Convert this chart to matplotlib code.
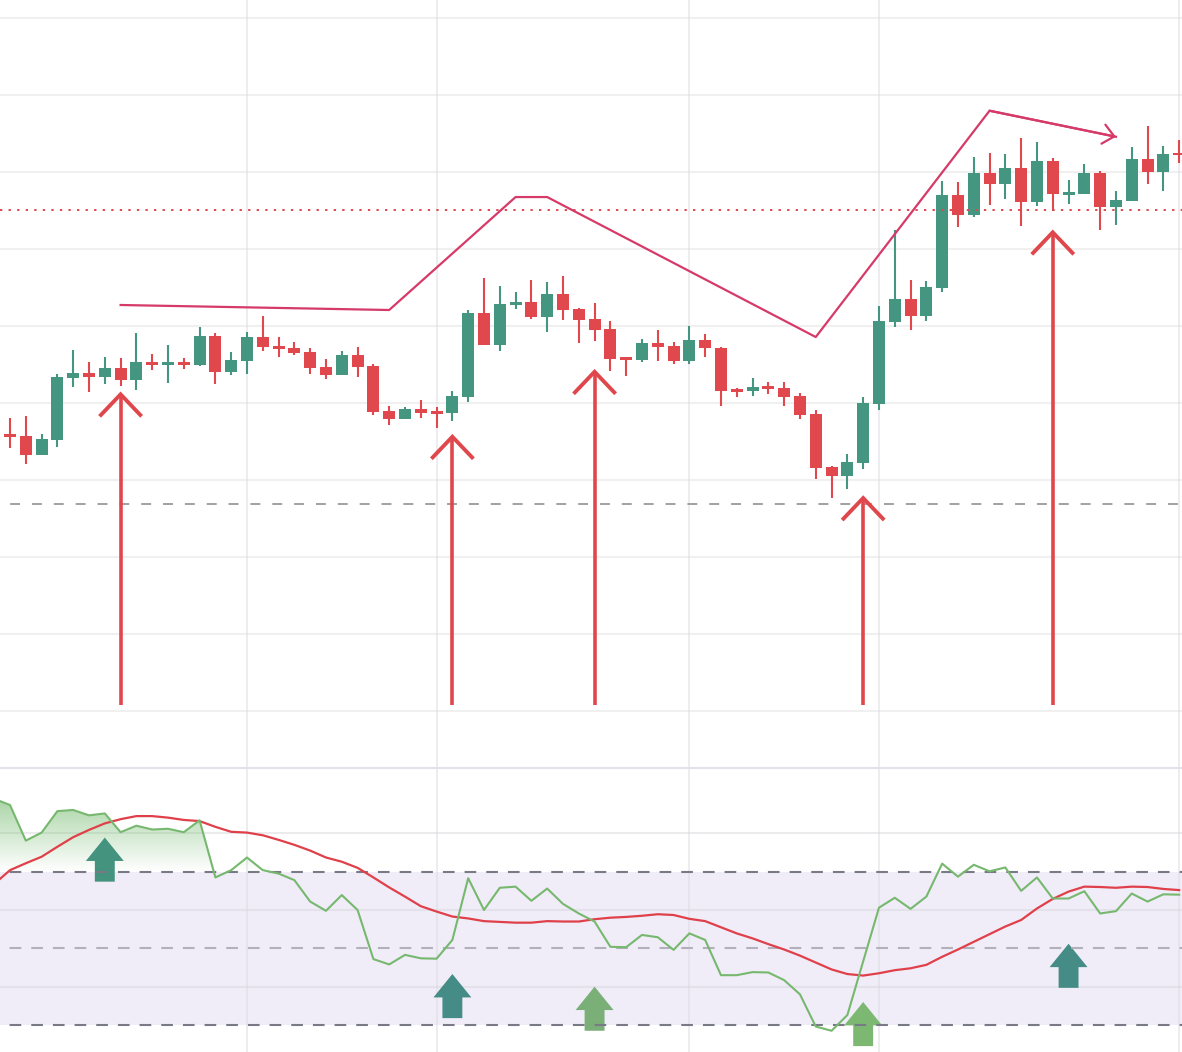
import numpy as np
import matplotlib.pyplot as plt
from matplotlib.colors import LinearSegmentedColormap
from matplotlib.patches import Polygon, PathPatch
from matplotlib.path import Path


# OHLC, one value per bar (bar 0 .. 74)
opens = [135.97, 135.71, 133.29, 135.23, 143.29, 143.90, 143.42, 144.55, 143.03, 145.32,
         144.97, 145.32, 144.97, 148.70, 144.06, 145.49, 148.57, 147.40, 147.14, 146.62,
         144.68, 143.68, 146.23, 144.81, 138.96, 137.96, 139.22, 138.96, 138.74, 140.82,
         151.69, 147.57, 152.77, 153.12, 151.21, 154.16, 152.21, 150.91, 149.61, 145.88,
         145.62, 147.83, 147.40, 145.49, 148.18, 147.20, 141.86, 141.60, 142.12, 141.99,
         140.95, 138.57, 131.69, 130.56, 132.25, 139.91, 150.56, 153.51, 151.34, 154.97,
         167.01, 164.45, 169.87, 168.48, 170.52, 166.14, 171.43, 167.05, 167.18, 169.87,
         165.49, 166.27, 171.69, 170.04, 172.51]
highs = [138.01, 138.31, 135.97, 143.77, 146.88, 145.32, 145.97, 145.81, 149.09, 146.36,
         147.53, 145.84, 149.87, 149.09, 146.62, 149.22, 151.30, 148.57, 147.92, 147.14,
         145.71, 146.75, 147.27, 145.06, 139.61, 139.48, 140.39, 139.48, 141.56, 152.08,
         156.23, 155.19, 154.42, 155.97, 155.71, 156.49, 152.34, 152.99, 150.65, 146.01,
         148.31, 149.48, 147.92, 150.00, 148.96, 147.30, 141.99, 143.29, 142.77, 142.77,
         141.26, 139.09, 131.82, 133.38, 140.82, 152.60, 162.47, 155.97, 155.84, 168.83,
         168.70, 171.95, 172.47, 172.34, 174.42, 173.90, 171.82, 168.96, 171.04, 170.13,
         167.57, 173.25, 175.97, 173.38, 174.16]
lows = [134.19, 132.08, 133.20, 134.32, 142.12, 141.47, 142.51, 142.25, 141.73, 144.32,
        142.64, 144.45, 144.84, 142.51, 143.68, 143.81, 146.79, 146.01, 146.27, 143.81,
        143.16, 143.60, 143.42, 138.48, 137.14, 137.90, 138.09, 136.79, 137.70, 140.17,
        147.50, 146.79, 152.25, 150.95, 149.26, 150.82, 147.83, 148.09, 144.19, 143.55,
        145.36, 145.49, 145.10, 145.10, 146.01, 139.65, 140.82, 140.95, 141.21, 139.65,
        137.88, 130.17, 127.70, 128.87, 131.47, 139.13, 149.91, 149.48, 150.69, 154.45,
        162.90, 164.19, 165.75, 166.53, 163.03, 165.62, 164.97, 165.88, 167.10, 162.51,
        163.16, 166.20, 168.48, 167.57, 171.21]
closes = [135.62, 133.29, 135.32, 143.38, 143.94, 143.42, 144.55, 143.03, 145.32, 144.97,
          145.32, 144.97, 148.70, 144.06, 145.58, 148.57, 147.31, 147.05, 146.53, 144.58,
          143.68, 146.23, 144.71, 138.87, 137.96, 139.22, 138.74, 138.61, 140.91, 151.69,
          147.57, 152.86, 153.12, 151.21, 154.16, 152.12, 150.82, 149.52, 145.75, 145.62,
          147.83, 147.31, 145.49, 148.18, 147.18, 141.60, 141.47, 142.12, 141.86, 140.82,
          138.48, 131.60, 130.56, 132.34, 140.04, 150.69, 153.51, 151.34, 155.06, 167.01,
          164.45, 169.87, 168.48, 170.52, 166.14, 171.43, 167.18, 167.40, 169.87, 165.49,
          166.40, 171.69, 170.04, 172.34, 172.21]

# RSI and its moving average, bar -1 .. 74
rsi = [89.0, 87.4, 78.1, 80.2, 85.8, 86.1, 84.7, 85.2, 80.3, 82.0, 81.0,
       81.2, 80.3, 83.4, 68.5, 70.4, 73.7, 70.4, 69.5, 67.8, 62.2,
       59.8, 63.9, 60.0, 47.2, 45.8, 48.3, 47.4, 47.3, 52.2, 68.3,
       60.0, 65.8, 66.1, 62.4, 65.6, 61.6, 59.1, 57.0, 50.4, 50.3,
       53.5, 52.9, 49.6, 53.9, 52.2, 43.0, 43.0, 43.8, 43.7, 41.7,
       38.0, 29.6, 28.5, 32.6, 46.6, 60.6, 63.2, 60.3, 63.5, 72.1,
       68.7, 71.8, 70.1, 71.1, 65.0, 68.5, 63.0, 63.0, 64.9, 59.1,
       59.7, 64.3, 62.2, 64.1, 64.0]
rsi_ma = [66.8, 70.4, 72.2, 73.9, 76.5, 79.0, 80.9, 82.6, 83.7, 84.5, 84.5,
          84.1, 83.5, 83.2, 81.7, 80.4, 80.2, 79.5, 78.3, 77.0, 75.5,
          73.7, 72.6, 71.0, 68.5, 65.9, 63.5, 61.0, 59.6, 58.3, 57.8,
          57.1, 56.9, 56.7, 56.7, 57.1, 57.0, 57.0, 57.6, 58.0, 58.2,
          58.5, 58.9, 58.7, 57.7, 57.1, 55.5, 53.9, 52.6, 51.1, 49.7,
          48.1, 46.3, 44.5, 43.3, 42.9, 43.5, 44.3, 44.8, 45.7, 47.8,
          49.7, 51.7, 53.7, 55.7, 57.4, 60.4, 62.9, 64.8, 66.1, 66.0,
          65.8, 66.1, 66.0, 65.5, 65.2]

# hand drawn trend line (bar, price)
trend_bars = [7, 24, 32, 34, 51, 62, 70]
trend_prices = [152.73, 152.08, 166.75, 166.75, 148.57, 177.96, 174.58]

# buy arrows on the price panel
buy_bars = [7, 28, 37, 54, 66]
buy_tips = [141.13, 135.62, 144.06, 127.66, 162.17]
buy_base = 100.78

# signal arrows on the RSI panel
sig_bars = [6, 28, 37, 54, 67]
sig_tips = [78.9, 43.3, 40.0, 36.0, 51.2]
sig_kind = ["strong", "teal", "green", "bright", "teal"]

resistance = 165.06
support = 126.88
time_grid = [15, 27, 43, 55, 74]
price_grid = list(range(100, 200, 10))

UP = "#459681"
DOWN = "#e0484e"
ARROW = "#e0474c"
TREND = "#d63a68"
SIG_COLORS = {"strong": "#43937f", "teal": "#458c86", "green": "#7aaf78", "bright": "#7cb872"}

fig = plt.figure(figsize=(11.82, 10.52), dpi=100)
ax = fig.add_axes([0, 285 / 1052, 1, 767 / 1052])
axr = fig.add_axes([0, 0, 1, 284 / 1052])

for a in (ax, axr):
    a.set_xticks([])
    a.set_yticks([])
    for s in a.spines.values():
        s.set_visible(False)
    for t in time_grid:
        a.axvline(t, color="#d8d8de", alpha=0.45, lw=1.4, zorder=0.5)

# price panel
for p in price_grid:
    ax.axhline(p, color="#f0f0f0", lw=1.5, zorder=0)

bars = np.arange(len(opens))
o = np.array(opens)
c = np.array(closes)
colors = np.where(c >= o, UP, DOWN)
ax.vlines(bars, lows, highs, colors=colors, lw=1.5, zorder=2)
ax.bar(bars, np.maximum(np.abs(c - o), 0.3), bottom=np.minimum(o, c), width=0.76,
       color=colors, lw=0, zorder=3)

ax.axhline(resistance, color=DOWN, lw=1.4, linestyle=(0, (1.2, 3.2)), zorder=4)
ax.axhline(support, color="#9a9a9e", lw=1.3, linestyle=(6.5, (5.5, 6.6)), zorder=1)

ax.plot(trend_bars, trend_prices, color=TREND, lw=1.6, zorder=5)
ax.annotate("", xy=(trend_bars[-1], trend_prices[-1]), xytext=(trend_bars[-2], trend_prices[-2]),
            arrowprops=dict(arrowstyle="->,head_length=0.4,head_width=0.35", color=TREND,
                            lw=1.6, mutation_scale=20, shrinkA=0, shrinkB=0), zorder=5)

for b, tip in zip(buy_bars, buy_tips):
    ax.plot([b, b], [buy_base, tip], color=ARROW, lw=2.6, solid_capstyle="butt", zorder=6)
    ax.plot([b - 1.33, b, b + 1.33], [tip - 2.86, tip, tip - 2.86], color=ARROW, lw=2.8,
            solid_capstyle="butt", solid_joinstyle="miter", zorder=6)

ax.set_xlim(-0.633, 74.18)
ax.set_ylim(92.73, 192.34)

# RSI panel
axr.axhspan(30, 70, color="#f0edf8", lw=0, zorder=0)
for v in (40, 60, 80):
    axr.axhline(v, color="#d8d8de", alpha=0.5, lw=1.5, zorder=0.5)

x_r = np.arange(-1, len(rsi) - 1)
r = np.array(rsi)
fill = axr.fill_between(x_r, r, 70, where=r >= 70, interpolate=True,
                        facecolor="none", edgecolor="none")
clip = PathPatch(Path.make_compound_path(*fill.get_paths()), transform=axr.transData,
                 facecolor="none", edgecolor="none")
axr.add_patch(clip)
cmap = LinearSegmentedColormap.from_list(
    "rsi_fill", [(0.47, 0.74, 0.44, 0.0), (0.47, 0.74, 0.44, 0.66)])
im = axr.imshow(np.linspace(0, 1, 256).reshape(-1, 1), extent=[-1, 75, 70, 90],
                origin="lower", aspect="auto", cmap=cmap, zorder=1)
im.set_clip_path(clip)

for b, tip, kind in zip(sig_bars, sig_tips, sig_kind):
    pts = [(b, tip), (b + 1.2, tip - 6.1), (b + 0.63, tip - 6.1), (b + 0.63, tip - 11.5),
           (b - 0.63, tip - 11.5), (b - 0.63, tip - 6.1), (b - 1.2, tip - 6.1)]
    axr.add_patch(Polygon(pts, closed=True, facecolor=SIG_COLORS[kind], edgecolor="none", zorder=2))

for v, col in ((70, "#787b86"), (50, "#b2b0bb"), (30, "#787b86")):
    axr.axhline(v, color=col, lw=1.5, linestyle=(5.8, (5.6, 4.8)), zorder=3)

axr.plot(x_r, rsi_ma, color="#e0404a", lw=1.6, zorder=4)
axr.plot(x_r, rsi, color="#77b86f", lw=1.5, zorder=5)

axr.spines["top"].set_visible(True)
axr.spines["top"].set_color("#e0e3eb")
axr.spines["top"].set_linewidth(1.5)

axr.set_xlim(-0.633, 74.18)
axr.set_ylim(22.96, 97.05)

fig.savefig("out.png", dpi=100, facecolor="white")
